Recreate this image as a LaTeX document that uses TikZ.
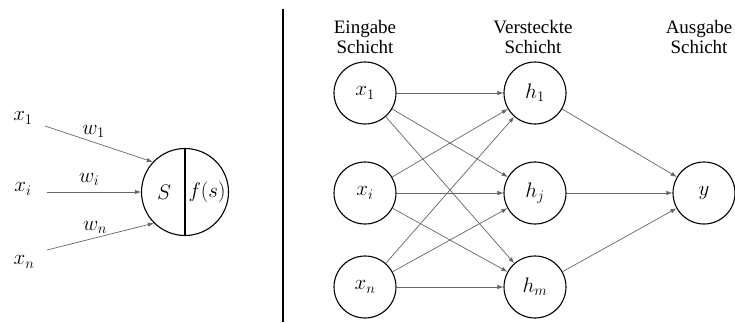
\documentclass[tikz,border=0pt]{standalone}
\usepackage{fix-cm}
\usepackage{fontspec}
\setmainfont{Liberation Serif}
\usetikzlibrary{arrows.meta}
\begin{document}
\begin{tikzpicture}[x=1pt,y=-1pt,
  neuron/.style={draw, circle, minimum size=62pt, inner sep=0pt, line width=1.1pt,
    font=\fontsize{21}{23}\selectfont},
  conn/.style={-{Latex[length=6pt,width=4.5pt]}, line width=0.7pt, draw=black!60},
  lbl/.style={inner sep=0pt, font=\fontsize{21}{23}\selectfont},
  head/.style={align=center, inner sep=0pt, font=\fontsize{19}{20.5}\selectfont}]
\useasboundingbox (0,0) rectangle (735,322);

% single neuron: summation and activation
\node[draw, circle, minimum size=87pt, inner sep=0pt, line width=1.1pt] (N) at (185,192) {};
\draw[line width=1.1pt] (N.north) -- (N.south);
\node[lbl] (S) at (164,192) {$S$};
\node[lbl] (F) at (207,192) {$f(s)$};

\node[lbl] (a1) at (23,118) {$x_1$};
\node[lbl] (ai) at (23,189) {$x_i$};
\node[lbl] (an) at (24,262) {$x_n$};
\coordinate (s1) at (45,126);
\coordinate (si) at (47,192);
\coordinate (sn) at (47,250);
\draw[conn] (s1) -- (N.137) node[lbl, pos=0.45, above=4pt] (w1) {$w_1$};
\draw[conn] (si) -- (N.180) node[lbl, pos=0.45, above=6pt] (wi) {$w_i$};
\draw[conn] (sn) -- (N.225) node[lbl, pos=0.45, above=4pt] (wn) {$w_n$};

% separator
\draw[line width=2.4pt] (283,9) -- (283,322);

% layer captions
\node[head] (t1) at (365,37) {Eingabe\\Schicht};
\node[head] (t2) at (533,37) {Versteckte\\Schicht};
\node[head] (t3) at (699,37) {Ausgabe\\Schicht};

% network
\node[neuron] (x1) at (365,93) {$x_1$};
\node[neuron] (xi) at (365,193) {$x_i$};
\node[neuron] (xn) at (365,287) {$x_n$};
\node[neuron] (h1) at (535,93) {$h_1$};
\node[neuron] (hj) at (535,193) {$h_j$};
\node[neuron] (hm) at (535,287) {$h_m$};
\node[neuron] (y) at (704,193) {$y$};

\foreach \a in {x1,xi,xn}
  \foreach \b in {h1,hj,hm}
    \draw[conn] (\a) -- (\b);
\foreach \b in {h1,hj,hm}
  \draw[conn] (\b) -- (y);
\end{tikzpicture}
\end{document}
